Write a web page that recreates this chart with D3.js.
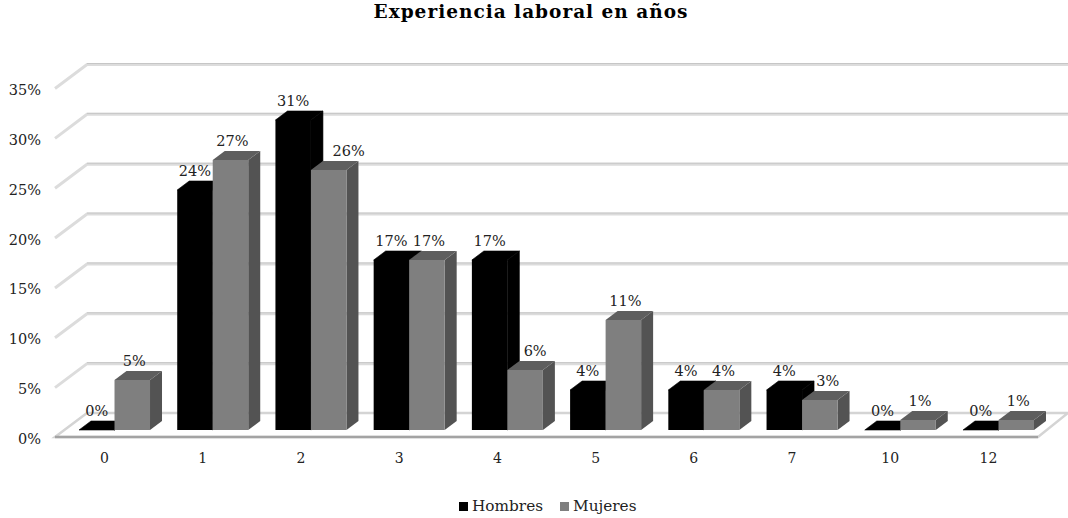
<!DOCTYPE html>
<html><head><meta charset="utf-8">
<script src="https://cdn.jsdelivr.net/npm/d3@7"></script>
<style>
html,body{margin:0;padding:0;background:#fff;overflow:hidden}
text{font-family:"DejaVu Serif",serif;fill:#222}
</style></head><body>
<svg id="c" width="1068" height="518"></svg>
<script>
const categories=["0","1","2","3","4","5","6","7","10","12"];
const seriesNames=["Hombres","Mujeres"];
const hombres=[0,24,31,17,17,4,4,4,0,0];
const mujeres=[5,27,26,17,6,11,4,3,1,1];
const yTicks=[0,5,10,15,20,25,30,35];
const title="Experiencia laboral en años";

const svg=d3.select("#c");
const colors={Hombres:{front:"#000",top:"#000",side:"#000"},Mujeres:{front:"#7f7f7f",top:"#5e5e5e",side:"#535353"}};
const x0=d3.scaleBand().domain(categories).range([79,1034]).paddingInner(0.277).paddingOuter(0);
const x1=d3.scaleBand().domain(seriesNames).range([0,x0.bandwidth()]);
const yBar=d3.scaleLinear().domain([0,35]).range([430,80]);
const yBack=d3.scaleLinear().domain([0,35]).range([413,64]);
const dxWall=32,dyWall=24,dxBar=12,dyBar=9;
const leftFront=55,rightFront=1038,rightBack=1068;

// floor
const y0=yBack(0);
svg.append("polygon")
  .attr("points",[[leftFront,y0+dyWall],[leftFront+dxWall,y0],[rightBack,y0],[rightFront,y0+dyWall]].join(" "))
  .attr("fill","#fff").attr("stroke","#d4d4d4").attr("stroke-width",2.5);
svg.append("line").attr("x1",leftFront).attr("x2",rightFront).attr("y1",y0+dyWall).attr("y2",y0+dyWall)
  .attr("stroke","#a3a3a3").attr("stroke-width",2.5);

// gridlines
const grid=yTicks.filter(d=>d>0);
svg.selectAll("path.grid").data(grid).join("path").attr("class","grid")
  .attr("fill","none").attr("stroke","#dcdcdc").attr("stroke-width",3)
  .attr("d",d=>`M${leftFront},${yBack(d)+dyWall+.5}L${leftFront+dxWall},${yBack(d)+.5}H${rightBack}`);
svg.selectAll("path.gridTop").data(grid).join("path").attr("class","gridTop")
  .attr("fill","none").attr("stroke","#c6c6c6").attr("stroke-width",1)
  .attr("d",d=>`M${leftFront+dxWall},${yBack(d)-.5}H${rightBack}`);

// y labels
svg.selectAll("text.ytick").data(yTicks).join("text").attr("class","ytick")
  .attr("x",41).attr("y",d=>yBack(d)+dyWall+7).attr("text-anchor","end")
  .attr("font-size",14.5).text(d=>d+"%");

// bars
const rows=categories.flatMap((c,i)=>[
  {c,s:"Hombres",v:hombres[i]},{c,s:"Mujeres",v:mujeres[i]}]);
const g=svg.selectAll("g.bar").data(rows).join("g").attr("class","bar");
const bx=d=>x0(d.c)+x1(d.s), bw=x1.bandwidth();
const edge=d=>d.s==="Hombres"?"#000":"none";
g.append("polygon").attr("fill",d=>colors[d.s].side).attr("stroke",edge).attr("stroke-width",.6)
  .attr("points",d=>{const x=bx(d)+bw,t=yBar(d.v),b=yBar(0);return [[x,t],[x+dxBar,t-dyBar],[x+dxBar,b-dyBar],[x,b]].join(" ");});
g.append("polygon").attr("fill",d=>colors[d.s].top).attr("stroke",edge).attr("stroke-width",.6)
  .attr("points",d=>{const x=bx(d),t=yBar(d.v);return [[x,t],[x+dxBar,t-dyBar],[x+bw+dxBar,t-dyBar],[x+bw,t]].join(" ");});
g.append("rect").attr("fill",d=>colors[d.s].front)
  .attr("x",bx).attr("width",bw).attr("y",d=>yBar(d.v)).attr("height",d=>yBar(0)-yBar(d.v));

// value labels: a Mujeres label moves right when the taller Hombres bar would cover it
const nudge=d=>{
  if(d.s!=="Mujeres")return 0;
  const h=hombres[categories.indexOf(d.c)];
  const diff=h-d.v;
  if(diff<=0)return 2;
  return diff>=11?10:(diff>=5?20:8);
};
svg.selectAll("text.val").data(rows).join("text").attr("class","val")
  .attr("x",d=>bx(d)+bw/2+nudge(d)).attr("y",d=>yBar(d.v)-14).attr("text-anchor","middle")
  .attr("font-size",14.5).text(d=>d.v+"%");

// category labels
svg.selectAll("text.cat").data(categories).join("text").attr("class","cat")
  .attr("x",d=>x0(d)+x0.bandwidth()/2-10).attr("y",463).attr("text-anchor","middle")
  .attr("font-size",14).text(d=>d);

// title
svg.append("text").attr("x",531).attr("y",18).attr("text-anchor","middle")
  .attr("font-size",18.5).attr("letter-spacing",1).attr("font-weight","bold").style("fill","#000").text(title);

// legend
const legendX=d3.scaleOrdinal().domain(seriesNames).range([459,560]);
const lg=svg.selectAll("g.leg").data(seriesNames).join("g").attr("class","leg");
lg.append("rect").attr("x",d=>legendX(d)).attr("y",502).attr("width",9).attr("height",9).attr("fill",d=>colors[d].front);
lg.append("text").attr("x",d=>legendX(d)+13).attr("y",511).attr("font-size",15.3).text(d=>d);
</script></body></html>
